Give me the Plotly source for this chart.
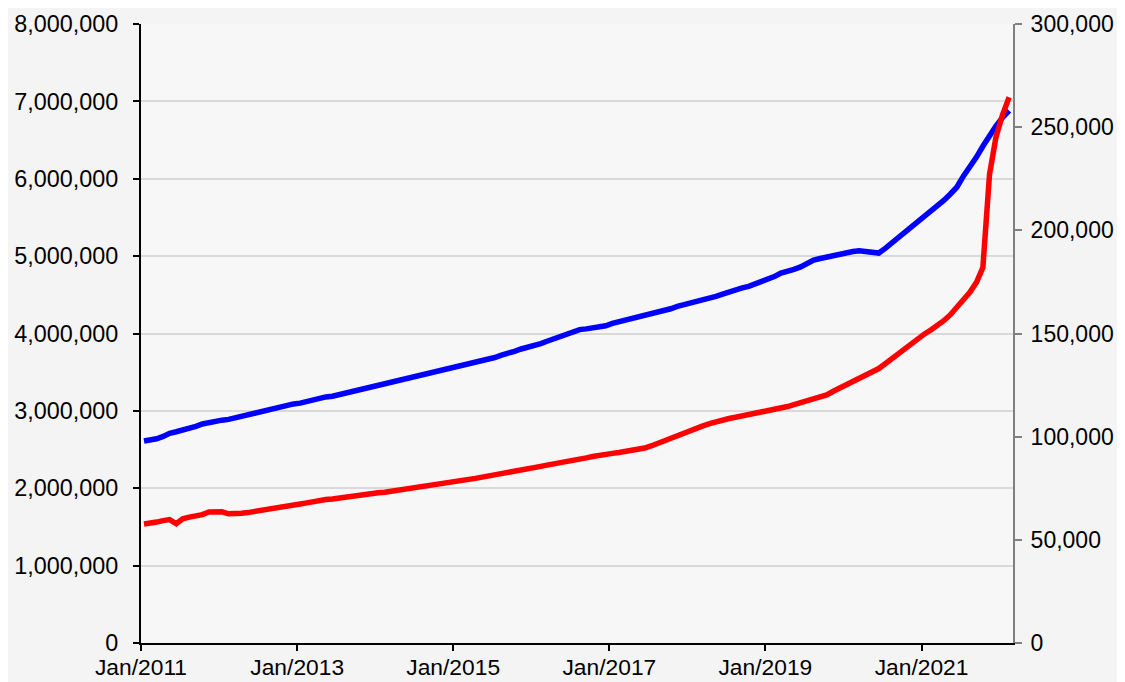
import pandas as pd
import plotly.graph_objects as go

# Monthly observations, Jan 2011 - Feb 2022
start_month = "2011-01"
n_months = 134

# Blue series (left axis), in millions
blue_millions = [
    2.61, 2.62, 2.64, 2.67, 2.71, 2.73, 2.75, 2.77, 2.80, 2.83, 2.85, 2.86,
    2.88, 2.89, 2.91, 2.93, 2.95, 2.97, 3.00, 3.02, 3.03, 3.05, 3.07, 3.09,
    3.10, 3.12, 3.15, 3.16, 3.18, 3.19, 3.21, 3.23, 3.25, 3.27, 3.29, 3.31,
    3.33, 3.35, 3.37, 3.39, 3.41, 3.43, 3.44, 3.46, 3.48, 3.50, 3.52, 3.54,
    3.56, 3.58, 3.60, 3.62, 3.64, 3.67, 3.69, 3.72, 3.74, 3.77, 3.80, 3.82,
    3.84, 3.87, 3.90, 3.93, 3.96, 3.99, 4.02, 4.05, 4.06, 4.07, 4.08, 4.10,
    4.13, 4.15, 4.17, 4.19, 4.21, 4.23, 4.25, 4.27, 4.30, 4.32, 4.35, 4.37,
    4.39, 4.42, 4.44, 4.46, 4.48, 4.51, 4.54, 4.57, 4.59, 4.61, 4.64, 4.67,
    4.70, 4.74, 4.78, 4.80, 4.83, 4.86, 4.91, 4.95, 4.97, 4.99, 5.01, 5.03,
    5.05, 5.06, 5.07, 5.06, 5.05, 5.04, 5.10, 5.17, 5.23, 5.29, 5.36, 5.43,
    5.50, 5.58, 5.65, 5.72, 5.80, 5.89, 6.03, 6.15, 6.28, 6.42, 6.56, 6.68,
    6.79, 6.88,
]

# Red series (right axis), in thousands
red_thousands = [
    57.7, 58.0, 58.6, 59.3, 59.8, 57.8, 60.2, 61.0, 61.6, 62.2, 63.5, 63.7,
    63.6, 62.6, 62.5, 62.9, 63.2, 63.8, 64.5, 65.0, 65.7, 66.0, 66.3, 66.8,
    67.4, 67.9, 68.6, 69.3, 69.5, 69.8, 70.3, 70.7, 71.0, 71.5, 72.0, 72.4,
    72.8, 73.1, 73.5, 74.0, 74.4, 74.9, 75.3, 75.8, 76.2, 76.7, 77.1, 77.7,
    78.2, 78.8, 79.3, 79.8, 80.3, 80.9, 81.5, 82.1, 82.7, 83.3, 83.9, 84.5,
    85.0, 85.6, 86.2, 86.7, 87.3, 87.9, 88.5, 89.1, 89.7, 90.4, 91.1, 91.4,
    91.9, 92.3, 92.7, 93.2, 93.8, 94.5, 95.5, 96.8, 98.0, 99.5, 100.8, 101.8,
    103.0, 104.0, 105.2, 106.3, 107.3, 108.0, 108.8, 109.4, 110.0, 110.6, 111.3, 112.0,
    112.6, 113.2, 113.8, 114.6, 115.5, 116.4, 117.4, 118.3, 119.1, 120.2, 122.0, 123.6,
    125.0, 126.6, 128.2, 129.6, 131.2, 133.0, 135.3, 137.8, 140.3, 142.8, 145.2, 147.6,
    149.8, 151.8, 153.8, 156.2, 159.0, 162.5, 166.0, 170.0, 174.8, 182.0, 227.0, 245.0,
    256.0, 264.5,
]

left_ticks = [0, 1000000, 2000000, 3000000, 4000000, 5000000, 6000000, 7000000, 8000000]
right_ticks = [0, 50000, 100000, 150000, 200000, 250000, 300000]
x_tick_labels = ["Jan/2011", "Jan/2013", "Jan/2015", "Jan/2017", "Jan/2019", "Jan/2021"]

dates = pd.date_range(start=start_month + "-01", periods=n_months, freq="MS") + pd.Timedelta(days=14)
blue_vals = [v * 1e6 for v in blue_millions]
red_vals = [v * 1e3 for v in red_thousands]
tick_dates = pd.to_datetime(["2011-01-01", "2013-01-01", "2015-01-01", "2017-01-01", "2019-01-01", "2021-01-01"])

FONT = "Liberation Sans, Arial, sans-serif"
FS = 23.4

fig = go.Figure()
fig.add_trace(go.Scatter(x=dates, y=blue_vals, mode="lines",
                         line=dict(color="#0000ff", width=5.5), yaxis="y", showlegend=False))
fig.add_trace(go.Scatter(x=dates, y=red_vals, mode="lines",
                         line=dict(color="#ff0000", width=5.5), yaxis="y2", showlegend=False))

fig.update_layout(
    width=1117, height=674,
    margin=dict(l=133, r=112, t=16, b=39),
    paper_bgcolor="#f4f4f4",
    plot_bgcolor="#f7f7f7",
    font=dict(family=FONT, size=FS, color="#000000"),
    xaxis=dict(
        type="date",
        range=["2011-01-01", "2022-03-05"],
        tickvals=tick_dates, ticktext=x_tick_labels,
        showgrid=False, zeroline=False, automargin=False,
        showline=True, linecolor="#000000", linewidth=2,
        ticks="outside", ticklen=6, tickwidth=2, tickcolor="#000000",
        ticklabelstandoff=-3,
        tickfont=dict(family=FONT, size=22.8),
    ),
    yaxis=dict(
        range=[0, 8000000],
        tickvals=left_ticks, tickformat=",d",
        showgrid=True, gridcolor="#d9d9d9", gridwidth=1.5,
        zeroline=False, automargin=False,
        showline=True, linecolor="#000000", linewidth=2,
        ticks="outside", ticklen=6, tickwidth=1.5, tickcolor="#000000",
        ticklabelstandoff=10,
        tickfont=dict(family=FONT, size=FS),
    ),
    yaxis2=dict(
        range=[0, 300000], overlaying="y", side="right", anchor="x",
        tickvals=right_ticks, tickformat=",d",
        showgrid=False, zeroline=False, automargin=False,
        showline=True, linecolor="#808080", linewidth=2,
        ticks="outside", ticklen=7, tickwidth=1.5, tickcolor="#808080",
        ticklabelstandoff=4,
        tickfont=dict(family=FONT, size=23),
    ),
)

fig.write_html("out.html")
